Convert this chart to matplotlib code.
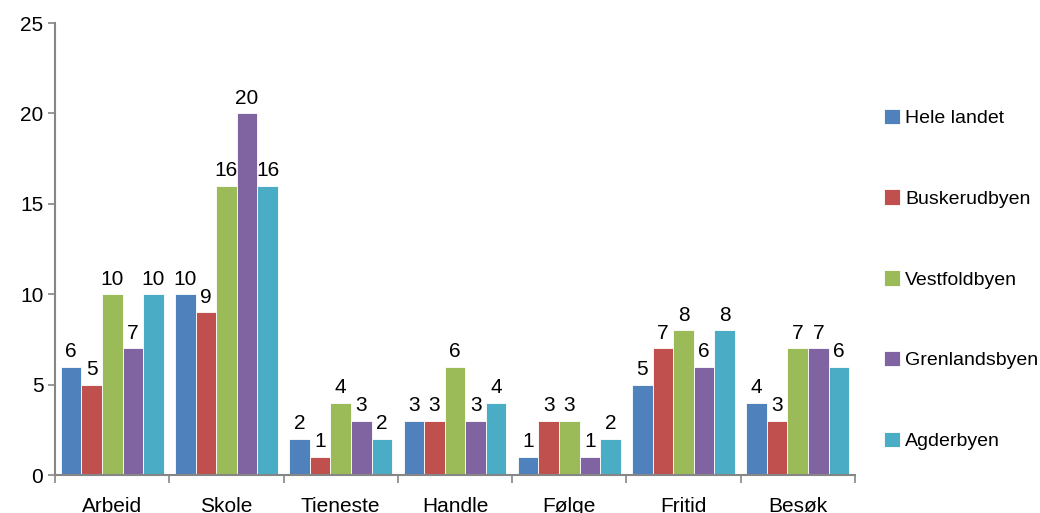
import numpy as np
import matplotlib
matplotlib.use("Agg")
import matplotlib.pyplot as plt

plt.rcParams['font.family'] = ['Liberation Sans', 'DejaVu Sans']

categories = ['Arbeid', 'Skole', 'Tieneste', 'Handle', 'Følge', 'Fritid', 'Besøk']
series_names = ['Hele landet', 'Buskerudbyen', 'Vestfoldbyen', 'Grenlandsbyen', 'Agderbyen']
hele_landet = [6, 10, 2, 3, 1, 5, 4]
buskerudbyen = [5, 9, 1, 3, 3, 7, 3]
vestfoldbyen = [10, 16, 4, 6, 3, 8, 7]
grenlandsbyen = [7, 20, 3, 3, 1, 6, 7]
agderbyen = [10, 16, 2, 4, 2, 8, 6]
series = [hele_landet, buskerudbyen, vestfoldbyen, grenlandsbyen, agderbyen]
colors = ['#4F81BD', '#C0504D', '#9BBB59', '#8064A2', '#4BACC6']

fig = plt.figure(figsize=(10.4, 5.13), dpi=100)
ax = fig.add_axes([0.053, 0.074, 0.769, 0.881])

x = np.arange(len(categories))
w = 0.18
for i, (vals, col, name) in enumerate(zip(series, colors, series_names)):
    pos = x - 0.36 + i * w
    bars = ax.bar(pos, vals, width=w, color=col, edgecolor='white', linewidth=0.6, label=name)
    ax.bar_label(bars, labels=[str(v) for v in vals], padding=4, fontsize=15)

ax.set_xlim(-0.5, len(categories) - 0.5)
ax.set_ylim(0, 25)
ax.set_yticks([0, 5, 10, 15, 20, 25])
ax.tick_params(axis='y', labelsize=15, length=5, color='#868686', width=1.2)

# category separators as ticks on the x axis
ax.set_xticks(np.arange(len(categories) + 1) - 0.5, minor=False)
ax.set_xticklabels([''] * (len(categories) + 1))
ax.set_xticks(x, minor=True)
ax.set_xticklabels(categories, minor=True, fontsize=15)
ax.tick_params(axis='x', which='major', length=6, color='#868686', width=1.2)
ax.tick_params(axis='x', which='minor', length=0, pad=16)

for s in ['top', 'right']:
    ax.spines[s].set_visible(False)
for s in ['left', 'bottom']:
    ax.spines[s].set_color('#868686')
    ax.spines[s].set_linewidth(1.5)

leg = ax.legend(loc='center left', bbox_to_anchor=(1.014, 0.433), frameon=False,
                fontsize=14, handlelength=0.85, handleheight=0.85,
                handletextpad=0.25, labelspacing=3.2)

fig.savefig('out.png', dpi=100)
